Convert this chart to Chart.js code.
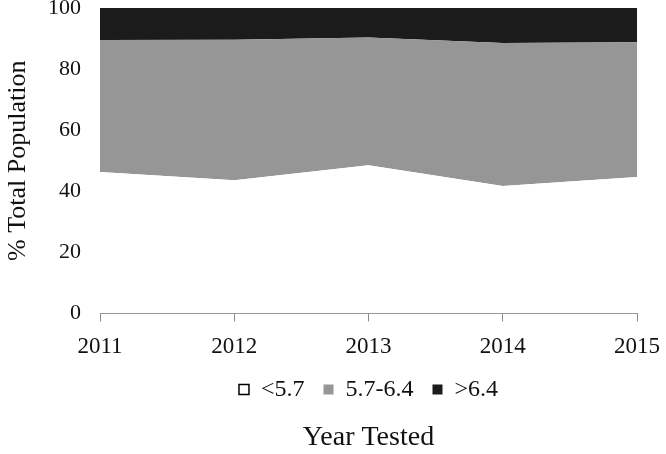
<!DOCTYPE html>
<html>
<head>
<meta charset="utf-8">
<script src="https://cdn.jsdelivr.net/npm/chart.js@4"></script>
<style>
  body { margin: 0; background: #fff; }
  #wrap { width: 666px; height: 454px; }
</style>
</head>
<body>
<div id="wrap"><canvas id="grafica"></canvas></div>
<script>
// datos (% de la poblacion total)
const years = ['2011', '2012', '2013', '2014', '2015'];
const below57 = [46.3, 43.6, 48.5, 41.7, 44.7];
const mid5764 = [43.2, 46.0, 41.8, 46.8, 44.1];
const above64 = [10.5, 10.4, 9.7, 11.5, 11.2];
const seriesNames = ['<5.7', '5.7-6.4', '>6.4'];
const yTicks = [0, 20, 40, 60, 80, 100];

const serif = '"Liberation Serif", "Times New Roman", serif';
Chart.defaults.color = '#111';

const ctx = document.getElementById('grafica').getContext('2d');
new Chart(ctx, {
    type: 'line',
    data: {
        labels: years,
        datasets: [
            { label: seriesNames[0], data: below57, backgroundColor: '#ffffff', fill: 'origin' },
            { label: seriesNames[1], data: mid5764, backgroundColor: '#969696', fill: '-1' },
            { label: seriesNames[2], data: above64, backgroundColor: '#1b1b1b', fill: '-1' }
        ]
    },
    options: {
        responsive: true,
        maintainAspectRatio: false,
        animation: false,
        layout: { padding: { top: 8, right: 29, left: 0, bottom: 0 } },
        elements: {
            line: { borderWidth: 0, tension: 0 },
            point: { radius: 0, hoverRadius: 0 }
        },
        scales: {
            x: {
                offset: false,
                grid: { display: true, drawOnChartArea: false, drawTicks: true, tickLength: 8, color: '#888' },
                border: { display: true, color: '#888', width: 1 },
                ticks: { font: { family: serif, size: 23, lineHeight: 1.1 }, padding: 13, maxRotation: 0 },
                afterFit: scale => { scale.height = 45; scale.paddingLeft = 0; scale.paddingRight = 0; }
            },
            y: {
                stacked: true,
                min: 0,
                max: 100,
                afterBuildTicks: scale => { scale.ticks = yTicks.map(v => ({ value: v })); },
                grid: { display: false, drawTicks: false },
                border: { display: true, color: '#888', width: 1 },
                ticks: { font: { family: serif, size: 22 }, padding: 19 },
                title: { display: true, text: '% Total Population', font: { family: serif, size: 26 }, padding: { top: 3, bottom: 0 } },
                afterFit: scale => { scale.width = 100; scale.paddingTop = 0; scale.paddingBottom = 0; }
            }
        },
        plugins: {
            tooltip: { enabled: false },
            legend: {
                position: 'bottom',
                fullSize: false,
                labels: {
                    font: { family: serif, size: 24 },
                    boxWidth: 10,
                    boxHeight: 10,
                    padding: 19,
                    generateLabels: chart => {
                        const items = Chart.defaults.plugins.legend.labels.generateLabels(chart);
                        items.forEach((it, i) => {
                            it.strokeStyle = '#000';
                            it.lineWidth = i === 0 ? 1.5 : 0;
                        });
                        return items;
                    }
                }
            },
            title: {
                display: true,
                position: 'bottom',
                fullSize: false,
                text: 'Year Tested',
                color: '#111',
                font: { family: serif, size: 28, weight: 'normal' },
                padding: { top: 9, bottom: 0 }
            }
        }
    }
});
</script>
</body>
</html>
